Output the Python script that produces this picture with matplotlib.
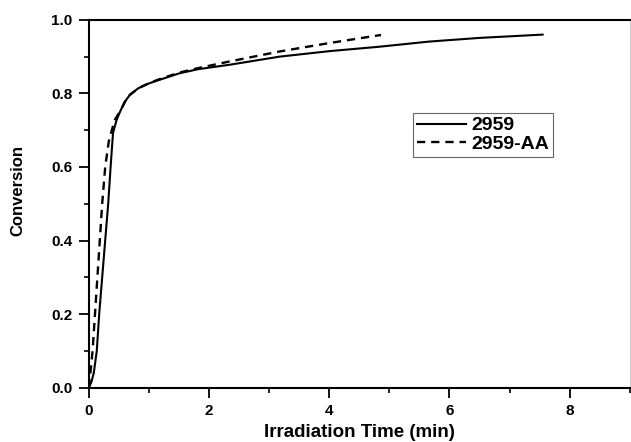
import matplotlib.pyplot as plt
from matplotlib.ticker import MultipleLocator

plt.rcParams['font.family'] = ['Liberation Sans', 'DejaVu Sans']

# 2959 (solid)
t_2959 = [0, 0.04, 0.08, 0.13, 0.17, 0.22, 0.27, 0.32, 0.36, 0.40, 0.46, 0.53,
          0.60, 0.68, 0.82, 1.01, 1.23, 1.51, 1.82, 2.34, 3.17, 4.0, 4.83,
          5.66, 6.5, 7.55]
c_2959 = [0, 0.015, 0.04, 0.10, 0.20, 0.30, 0.40, 0.50, 0.60, 0.692, 0.728, 0.755,
          0.778, 0.796, 0.814, 0.828, 0.84, 0.855, 0.866, 0.878, 0.90, 0.915, 0.927,
          0.941, 0.951, 0.96]

# 2959-AA (dashed)
t_aa = [0, 0.03, 0.06, 0.10, 0.14, 0.18, 0.22, 0.27, 0.33, 0.38, 0.43, 0.53,
        0.60, 0.68, 0.82, 1.01, 1.23, 1.51, 1.82, 2.34, 3.17, 4.0, 4.86]
c_aa = [0, 0.05, 0.10, 0.20, 0.30, 0.40, 0.50, 0.60, 0.67, 0.70, 0.728, 0.755,
        0.778, 0.796, 0.814, 0.829, 0.842, 0.857, 0.869, 0.887, 0.914, 0.937, 0.959]

fig = plt.figure(figsize=(6.31, 4.42), dpi=100)
ax = fig.add_axes([0.141, 0.123, 0.857, 0.832])

ax.plot(t_2959, c_2959, color="black", lw=1.5, label="2959")
ax.plot(t_aa, c_aa, color="black", lw=1.7, ls=(0, (3.5, 2.5)), label="2959-AA")

ax.set_xlim(0, 9)
ax.set_ylim(0, 1.0)
ax.xaxis.set_major_locator(MultipleLocator(2))
ax.xaxis.set_minor_locator(MultipleLocator(1))
ax.yaxis.set_minor_locator(MultipleLocator(0.1))
ax.set_yticks([0, 0.2, 0.4, 0.6, 0.8, 1.0])
ax.set_yticklabels(["0.0", "0.2", "0.4", "0.6", "0.8", "1.0"])

ax.tick_params(which="major", direction="out", length=7, width=1.3, labelsize=11, pad=5)
ax.tick_params(which="minor", direction="out", length=3.5, width=1.2)
for lab in ax.get_xticklabels() + ax.get_yticklabels():
    lab.set_fontweight("bold")

for s in ["left", "bottom", "top"]:
    ax.spines[s].set_linewidth(1.5)
ax.spines["right"].set_color("#cccccc")
ax.spines["right"].set_linewidth(0.8)

ax.set_xlabel("Irradiation Time (min)", fontsize=13.5, fontweight="bold")
ax.xaxis.set_label_coords(0.5, -0.098)
ax.set_ylabel("Conversion", fontsize=12, fontweight="bold")
ax.yaxis.set_label_coords(-0.118, 0.535)

leg = ax.legend(loc="upper left", bbox_to_anchor=(413 / 631, 1 - 113 / 442),
                bbox_transform=fig.transFigure,
                prop={"weight": "bold", "size": 14}, fancybox=False,
                handlelength=2.5, handletextpad=0.3, borderpad=0.2,
                labelspacing=0.05, borderaxespad=0,
                edgecolor="#666666", framealpha=1)
leg.get_frame().set_linewidth(0.8)

fig.savefig("out.png", dpi=100)
